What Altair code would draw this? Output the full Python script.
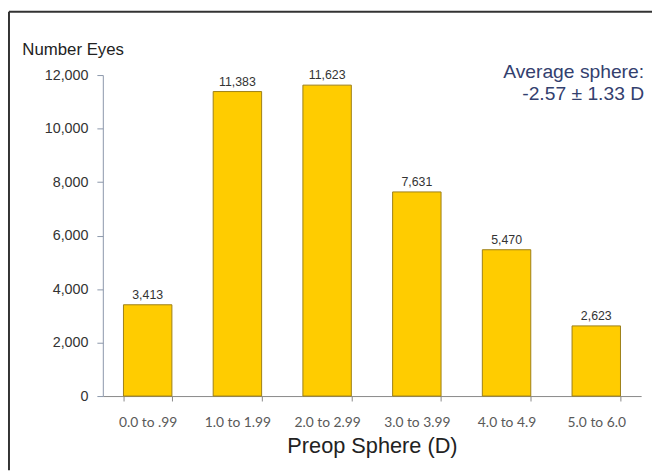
import altair as alt
import pandas as pd

categories = ["0.0 to .99", "1.0 to 1.99", "2.0 to 2.99", "3.0 to 3.99", "4.0 to 4.9", "5.0 to 6.0"]
eyes = [3413, 11383, 11623, 7631, 5470, 2623]
y_ticks = [0, 2000, 4000, 6000, 8000, 10000, 12000]
annotation = ["Average sphere:", "-2.57 ± 1.33 D"]

W, H = 545, 325
PAD = {"left": 96, "top": 65, "right": 11, "bottom": 75}

df = pd.DataFrame({"cat": categories, "eyes": eyes})

x = alt.X("cat:N", sort=categories,
          scale=alt.Scale(paddingInner=0.46, paddingOuter=0.23),
          axis=alt.Axis(title="Preop Sphere (D)", labelAngle=0, tickBand="extent",
                        labelFont="Lato", labelFontSize=14, labelColor="#595959",
                        labelPadding=15, tickSize=5, tickColor="#888888",
                        domainColor="#888888", titleFont="Liberation Sans",
                        titleFontSize=22, titleFontWeight="normal", titleColor="#222222",
                        titlePadding=6))
y = alt.Y("eyes:Q", scale=alt.Scale(domain=[0, 12000], nice=False),
          axis=alt.Axis(values=y_ticks, format=",.0f", grid=False, title="Number Eyes",
                        titleAngle=0, titleAlign="left", titleBaseline="alphabetic",
                        titleX=-82, titleY=-21, titleFont="Liberation Sans",
                        titleFontSize=17, titleFontWeight="normal", titleColor="#222222",
                        labelFont="Liberation Sans", labelFontSize=14.5, labelColor="#333333",
                        labelPadding=9, tickSize=6, tickColor="#8a96aa",
                        domainColor="#8a96aa"))

bars = alt.Chart(df).mark_bar(color="#FFCC00", stroke="#9C7F17", strokeWidth=1).encode(x=x, y=y)
labels = alt.Chart(df).mark_text(dy=-10, font="Liberation Sans", fontSize=12.5,
                                 color="#333333").encode(
    x=alt.X("cat:N", sort=categories), y="eyes:Q", text=alt.Text("eyes:Q", format=",.0f"))

ann = alt.Chart(pd.DataFrame({"t": ["\n".join(annotation)]})).mark_text(
    align="right", baseline="alphabetic", lineBreak="\n", font="Liberation Sans",
    fontSize=19.5, color="#33406E", lineHeight=22).encode(
    x=alt.value(W + 3), y=alt.value(3), text="t:N")

frame_left = alt.Chart(pd.DataFrame({"a": [0]})).mark_rule(color="#333333", strokeWidth=2).encode(
    x=alt.value(-PAD["left"] + 1), y=alt.value(-PAD["top"] + 1), y2=alt.value(H + PAD["bottom"]))
frame_top = alt.Chart(pd.DataFrame({"a": [0]})).mark_rule(color="#333333", strokeWidth=2).encode(
    y=alt.value(-PAD["top"] + 1), x=alt.value(-PAD["left"] + 1), x2=alt.value(W + PAD["right"]))

chart = alt.layer(bars, labels, ann, frame_left, frame_top).properties(
    width=W, height=H, padding=PAD, autosize=alt.AutoSizeParams(type="none"),
    background="white"
).configure_view(stroke=None)

chart.save("out.html", embed_options={"renderer": "svg", "actions": False})
